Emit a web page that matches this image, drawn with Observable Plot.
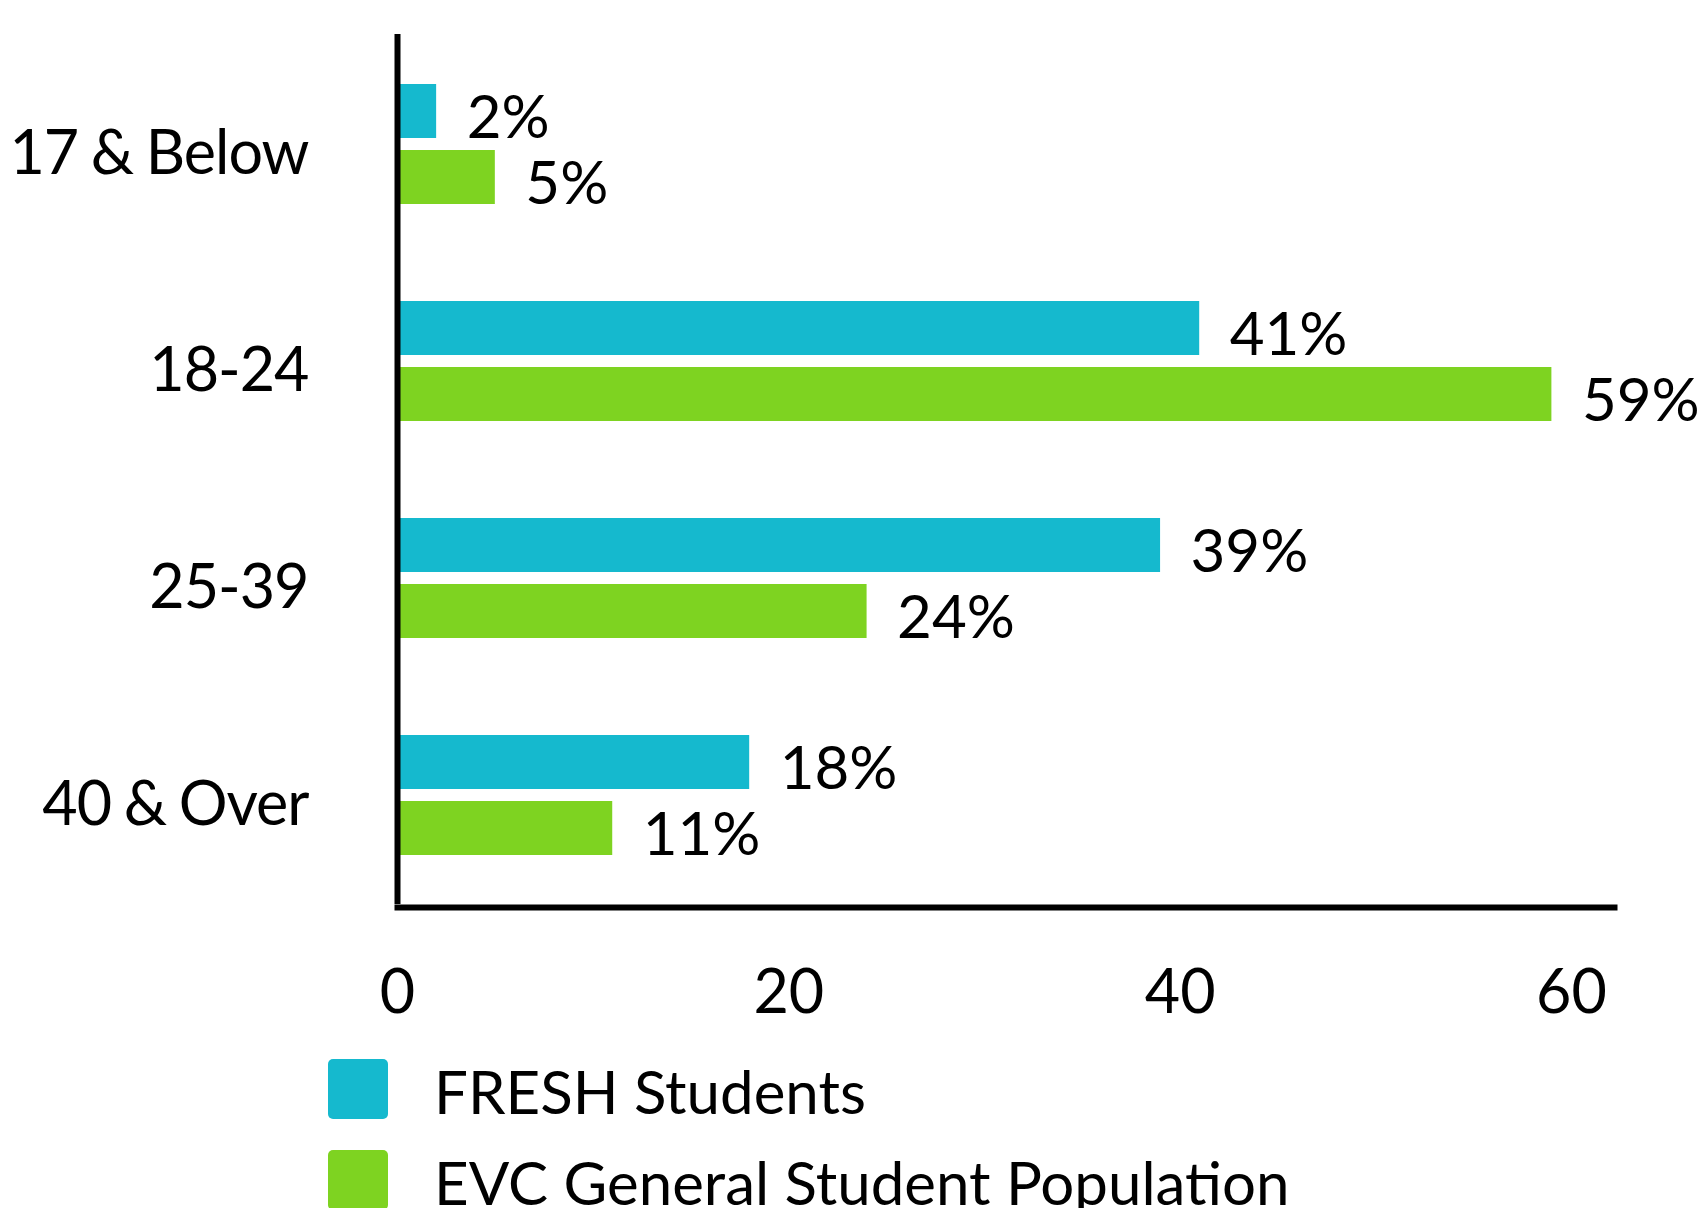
<!DOCTYPE html>
<html>
<head>
<meta charset="utf-8">
<script src="https://cdn.jsdelivr.net/npm/d3@7"></script>
<script src="https://cdn.jsdelivr.net/npm/@observablehq/plot@0.6"></script>
<style>
  html, body { margin: 0; padding: 0; background: #fff; }
  body { width: 1703px; height: 1208px; overflow: hidden; font-family: Lato, sans-serif; }
  #chart svg { display: block; }
  #chart g[aria-label="y-axis tick label"] text { letter-spacing: -1px; word-spacing: -2px; }
  #legend { margin-left: 328px; margin-top: 19px; }
  .row { display: flex; align-items: flex-start; height: 91px; }
  .sw { width: 60px; height: 60px; border-radius: 5px; flex: none; }
  .lab { margin-left: 46px; font-size: 60px; line-height: 60px; padding-top: 2px; color: #000; white-space: nowrap; }
</style>
</head>
<body>
<div id="chart"></div>
<div id="legend"></div>
<script>
const ages = ["17 & Below", "18-24", "25-39", "40 & Over"];
const freshValues = [2, 41, 39, 18];
const evcValues = [5, 59, 24, 11];
const seriesNames = ["FRESH Students", "EVC General Student Population"];
const seriesColors = ["#15B9CE", "#7ED321"];
const xTicks = [0, 20, 40, 60];

const fresh = ages.map((a, i) => ({age: a, value: freshValues[i]}));
const evc = ages.map((a, i) => ({age: a, value: evcValues[i]}));

const chart = Plot.plot({
  width: 1703,
  height: 1040,
  marginLeft: 397,
  marginRight: 89,
  marginTop: 34,
  marginBottom: 136,
  style: {fontFamily: "Lato, sans-serif", color: "#000", background: "#fff"},
  x: {domain: [0, 62.2], ticks: xTicks},
  y: {domain: ages, paddingInner: 0.449, paddingOuter: 0.2226},
  marks: [
    Plot.barX(fresh, {x: "value", y: "age", fill: seriesColors[0], insetBottom: 66}),
    Plot.barX(evc, {x: "value", y: "age", fill: seriesColors[1], insetTop: 66}),
    Plot.text(fresh, {x: "value", y: "age", text: d => d.value + "%", textAnchor: "start", dx: 30, dy: -26, fontSize: 60, fill: "#000"}),
    Plot.text(evc, {x: "value", y: "age", text: d => d.value + "%", textAnchor: "start", dx: 30, dy: 40, fontSize: 60, fill: "#000"}),
    Plot.ruleX([0], {stroke: "#000", strokeWidth: 6}),
    Plot.frame({anchor: "bottom", stroke: "#000", strokeWidth: 6, dy: 3}),
    Plot.axisY({tickSize: 0, tickPadding: 89, fontSize: 61, dy: 10, label: null}),
    Plot.axisX({ticks: xTicks, tickSize: 0, tickPadding: 65, fontSize: 61, label: null})
  ]
});
document.getElementById("chart").appendChild(chart);

const legend = document.getElementById("legend");
seriesNames.forEach((name, i) => {
  const row = document.createElement("div");
  row.className = "row";
  const sw = document.createElement("div");
  sw.className = "sw";
  sw.style.background = seriesColors[i];
  const lab = document.createElement("div");
  lab.className = "lab";
  lab.textContent = name;
  row.appendChild(sw);
  row.appendChild(lab);
  legend.appendChild(row);
});
</script>
</body>
</html>
